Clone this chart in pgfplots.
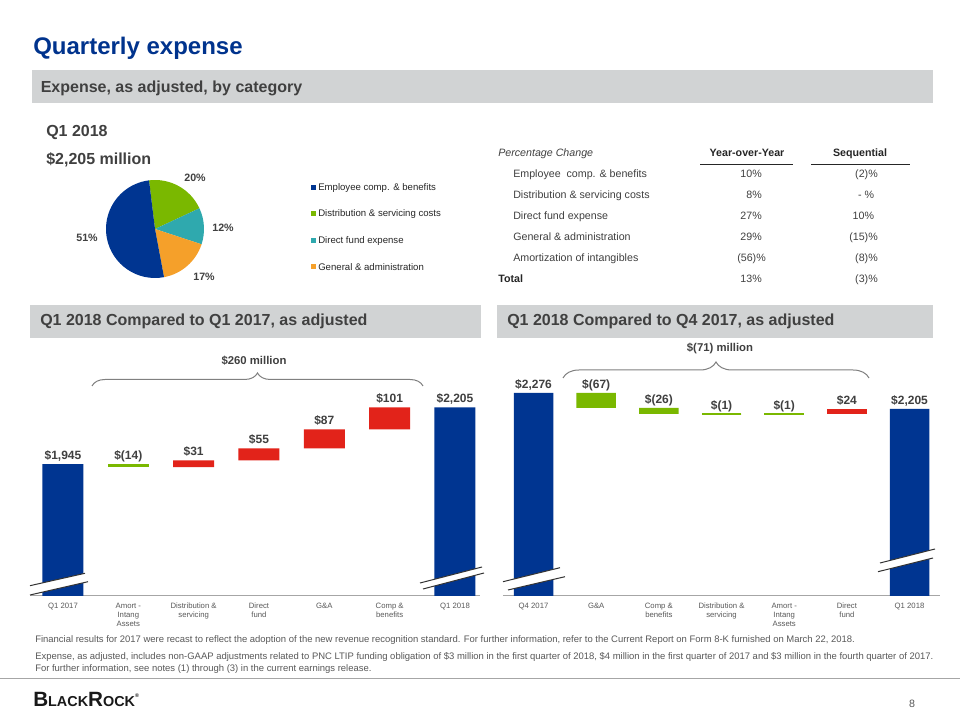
\documentclass[border=0pt]{standalone}
\usepackage{pgfplots}
\pgfplotsset{compat=1.18}
\usepackage{fontspec}
\setmainfont{Liberation Sans}
\usetikzlibrary{decorations.pathreplacing}
\definecolor{navy}{HTML}{003591}
\definecolor{titleblue}{HTML}{00338D}
\definecolor{bargreen}{HTML}{7AB800}
\definecolor{barred}{HTML}{E2231A}
\definecolor{piteal}{HTML}{2FA9AE}
\definecolor{piorange}{HTML}{F5A02A}
\definecolor{bandgray}{HTML}{D1D3D4}
\definecolor{txt}{HTML}{404040}
\definecolor{ticktxt}{HTML}{595959}
\definecolor{darktxt}{HTML}{262626}
\newcommand{\fs}[1]{\fontsize{#1}{#1}\selectfont}
\tikzset{lbl/.style={anchor=base, inner sep=0, yshift=3.4pt, text=txt, font=\bfseries\fs{9}}}
\pgfplotsset{
  wf/.style={scale only axis, ybar stacked, axis y line=none, axis x line*=bottom,
    x axis line style={draw=gray!70, -, line width=0.75pt}, xtick={0,...,6}, major tick length=0pt,
    typeset ticklabels with strut,
    xticklabel style={font=\fontsize{5.8}{6.8}\selectfont, text=ticktxt, align=center, yshift=-0.8pt},
    clip mode=individual}
}
\begin{document}
\begin{tikzpicture}[x=0.75pt,y=0.75pt]
\fill[white] (0,0) rectangle (960,720);
\useasboundingbox (0,0) rectangle (960,720);
% title and bands
\node[anchor=base west, inner sep=0, text=titleblue, font=\bfseries\fs{18}] at (33,665) {Quarterly expense};
\fill[bandgray] (31.5,616.7) rectangle (933,650);
\node[anchor=base west, inner sep=0, text=txt, font=\bfseries\fs{12}] at (40.5,627.3) {Expense, as adjusted, by category};
\node[anchor=base west, inner sep=0, text=txt, font=\bfseries\fs{12}] at (46,583.3) {Q1 2018};
\node[anchor=base west, inner sep=0, text=txt, font=\bfseries\fs{12}] at (46,555.7) {\$2,205 million};
% pie
\begin{axis}[at={(116.25pt,368.25pt)}, anchor=center, hide axis, scale only axis,
  width=73.5pt, height=73.5pt, xmin=-1, xmax=1, ymin=-1, ymax=1, clip=false]
\addplot[draw=none] coordinates {(0,0)};
% shares: 20, 12, 17, 51 (%), clockwise from 97 degrees
\fill[bargreen] (axis cs:0,0) -- ++(97:36.75pt) arc[start angle=97, end angle=25, radius=36.75pt] -- cycle;
\fill[piteal] (axis cs:0,0) -- ++(25:36.75pt) arc[start angle=25, end angle=-18.2, radius=36.75pt] -- cycle;
\fill[piorange] (axis cs:0,0) -- ++(-18.2:36.75pt) arc[start angle=-18.2, end angle=-79.4, radius=36.75pt] -- cycle;
\fill[navy] (axis cs:0,0) -- ++(-79.4:36.75pt) arc[start angle=-79.4, end angle=-263, radius=36.75pt] -- cycle;
\end{axis}
\begin{scope}[every node/.style={inner sep=0, text=txt, font=\bfseries\fs{8}}]
\node at (195,542) {20\%};
\node at (223,492) {12\%};
\node at (204,443) {17\%};
\node at (87,482) {51\%};
\end{scope}
% legend
\begin{scope}[every node/.style={anchor=west, inner sep=0, text=darktxt, font=\fs{7.2}}]
\fill[navy] (311,529.5) rectangle (316,534.5); \node at (318,532) {Employee comp. \& benefits};
\fill[bargreen] (311,503.5) rectangle (316,508.5); \node at (318,506) {Distribution \& servicing costs};
\fill[piteal] (311,476.5) rectangle (316,481.5); \node at (318,479) {Direct fund expense};
\fill[piorange] (311,450.5) rectangle (316,455.5); \node at (318,453) {General \& administration};
\end{scope}
% table
\begin{scope}[every node/.style={inner sep=0, text=txt, font=\fs{8}}]
\node[anchor=base west, font=\itshape\fs{8}] at (498,563.3) {Percentage Change};
\node[anchor=base, text=darktxt, font=\bfseries\fs{8}] at (747,563.3) {Year-over-Year};
\node[anchor=base, text=darktxt, font=\bfseries\fs{8}] at (860,563.3) {Sequential};
\draw[darktxt, line width=0.75pt] (700,555.7) -- (793,555.7);
\draw[darktxt, line width=0.75pt] (811,555.7) -- (910,555.7);
\node[anchor=base west] at (513,542.7) {Employee\ \ comp. \& benefits};
\node[anchor=base west] at (513,521.7) {Distribution \& servicing costs};
\node[anchor=base west] at (513,500.7) {Direct fund expense};
\node[anchor=base west] at (513,479.7) {General \& administration};
\node[anchor=base west] at (513,458.7) {Amortization of intangibles};
\node[anchor=base west, text=darktxt, font=\bfseries\fs{8}] at (498,437.3) {Total};
\node[anchor=base east] at (762,542.7) {10\%};
\node[anchor=base east] at (762,521.7) {8\%};
\node[anchor=base east] at (762,500.7) {27\%};
\node[anchor=base east] at (762,479.7) {29\%};
\node[anchor=base east] at (766,458.7) {(56)\%};
\node[anchor=base east] at (762,437.3) {13\%};
\node[anchor=base east] at (878,542.7) {(2)\%};
\node[anchor=base east] at (874.3,521.7) {- \%};
\node[anchor=base east] at (874.3,500.7) {10\%};
\node[anchor=base east] at (878,479.7) {(15)\%};
\node[anchor=base east] at (878,458.7) {(8)\%};
\node[anchor=base east] at (878,437.3) {(3)\%};
\end{scope}
% second bands
\fill[bandgray] (30,382) rectangle (481,415);
\fill[bandgray] (497,382) rectangle (933,415);
\node[anchor=base west, inner sep=0, text=txt, font=\bfseries\fs{12}] at (40,394) {Q1 2018 Compared to Q1 2017, as adjusted};
\node[anchor=base west, inner sep=0, text=txt, font=\bfseries\fs{12}] at (507,394) {Q1 2018 Compared to Q4 2017, as adjusted};
% left waterfall
\begin{axis}[wf, at={(22.5pt,93pt)}, anchor=south west, width=337.5pt, height=157pt,
  xmin=-0.505, xmax=6.383, ymin=1340, ymax=2300, bar width=30.75pt,
  xticklabels={Q1 2017, {Amort -\\Intang\\Assets}, {Distribution \&\\servicing}, {Direct\\fund}, G\&A, {Comp \&\\benefits}, Q1 2018}]
\addplot[draw=none, fill=none] coordinates {(0,0) (1,1931) (2,1931) (3,1962) (4,2017) (5,2104) (6,0)};
\addplot[draw=none, fill=navy] coordinates {(0,1945) (1,0) (2,0) (3,0) (4,0) (5,0) (6,2205)};
\addplot[draw=none, fill=bargreen] coordinates {(0,0) (1,14) (2,0) (3,0) (4,0) (5,0) (6,0)};
\addplot[draw=none, fill=barred] coordinates {(0,0) (1,0) (2,31) (3,55) (4,87) (5,101) (6,0)};
\node[lbl] at (axis cs:0,1945) {\$1,945};
\node[lbl] at (axis cs:1,1945) {\$(14)};
\node[lbl] at (axis cs:2,1962) {\$31};
\node[lbl] at (axis cs:3,2017) {\$55};
\node[lbl] at (axis cs:4,2104) {\$87};
\node[lbl] at (axis cs:5,2205) {\$101};
\node[lbl] at (axis cs:6,2205) {\$2,205};
\end{axis}
% right waterfall
\begin{axis}[wf, at={(377.25pt,93pt)}, anchor=south west, width=327.75pt, height=156.4pt,
  xmin=-0.487, xmax=6.486, ymin=1375, ymax=2300, bar width=29.6pt,
  xticklabels={Q4 2017, G\&A, {Comp \&\\benefits}, {Distribution \&\\servicing}, {Amort -\\Intang\\Assets}, {Direct\\fund}, Q1 2018}]
\addplot[draw=none, fill=none] coordinates {(0,0) (1,2209) (2,2183) (3,2182) (4,2181) (5,2181) (6,0)};
\addplot[draw=none, fill=navy] coordinates {(0,2276) (1,0) (2,0) (3,0) (4,0) (5,0) (6,2205)};
\addplot[draw=none, fill=bargreen] coordinates {(0,0) (1,67) (2,26) (3,1) (4,1) (5,0) (6,0)};
\addplot[draw=none, fill=barred] coordinates {(0,0) (1,0) (2,0) (3,0) (4,0) (5,24) (6,0)};
\node[lbl] at (axis cs:0,2276) {\$2,276};
\node[lbl] at (axis cs:1,2276) {\$(67)};
\node[lbl] at (axis cs:2,2209) {\$(26)};
\node[lbl] at (axis cs:3,2183) {\$(1)};
\node[lbl] at (axis cs:4,2182) {\$(1)};
\node[lbl] at (axis cs:5,2205) {\$24};
\node[lbl] at (axis cs:6,2205) {\$2,205};
\end{axis}
% thin bars overlay (same frame as right waterfall)
\begin{axis}[scale only axis, hide axis, at={(377.25pt,93pt)}, anchor=south west, width=327.75pt, height=156.4pt,
  xmin=-0.487, xmax=6.486, ymin=1375, ymax=2300]
\addplot[only marks, mark=-, mark size=14.8pt, mark options={draw=bargreen, line width=1.1pt}] coordinates {(3,2182.5) (4,2181.5)};
\end{axis}
% axis breaks
\begin{scope}[line width=0.75pt]
\fill[white] (30,134.3) -- (85,146.7) -- (88,138.3) -- (30,125) -- cycle;
\draw[black!80] (30,134.3) -- (85,146.7); \draw[black!80] (30,125) -- (88,138.3);
\fill[white] (420,137) -- (482,153) -- (484,147) -- (423,131) -- cycle;
\draw[black!80] (420,137) -- (482,153); \draw[black!80] (423,131) -- (484,147);
\fill[white] (503,138.3) -- (560,152.3) -- (565,143.3) -- (508,130) -- cycle;
\draw[black!80] (503,138.3) -- (560,152.3); \draw[black!80] (508,130) -- (565,143.3);
\fill[white] (880,157) -- (935,171) -- (933,162) -- (878,148.3) -- cycle;
\draw[black!80] (880,157) -- (935,171); \draw[black!80] (878,148.3) -- (933,162);
\end{scope}
% braces
\draw[gray, line width=0.75pt, decorate, decoration={brace, amplitude=9.75pt}] (92,334) -- (423,334);
\node[inner sep=0, text=txt, font=\bfseries\fs{8.5}] at (254,359) {\$260 million};
\draw[gray, line width=0.75pt, decorate, decoration={brace, amplitude=12pt}] (563,342) -- (869,342);
\node[inner sep=0, text=txt, font=\bfseries\fs{8.5}] at (720,372) {\$(71) million};
% footnotes
\begin{scope}[every node/.style={anchor=base west, inner sep=0, text=ticktxt, font=\fs{7.1}}]
\node at (35,77.5) {Financial results for 2017 were recast to reflect the adoption of the new revenue recognition standard. For further information, refer to the Current Report on Form 8-K furnished on March 22, 2018.};
\node at (35,60.5) {Expense, as adjusted, includes non-GAAP adjustments related to PNC LTIP funding obligation of \$3 million in the first quarter of 2018, \$4 million in the first quarter of 2017 and \$3 million in the fourth quarter of 2017.};
\node at (35,48.5) {For further information, see notes (1) through (3) in the current earnings release.};
\end{scope}
\draw[gray!70, line width=0.75pt] (0,41) -- (960,41);
\node[anchor=base west, inner sep=0, text=black!90, font=\bfseries] at (33,13.3) {{\fs{15.5}B}{\fs{10.8}LACK}{\fs{15.5}R}{\fs{10.8}OCK}{\raisebox{7pt}{\fs{4}\textregistered}}};
\node[anchor=base, inner sep=0, text=ticktxt, font=\fs{8}] at (912,12) {8};
\end{tikzpicture}
\end{document}
